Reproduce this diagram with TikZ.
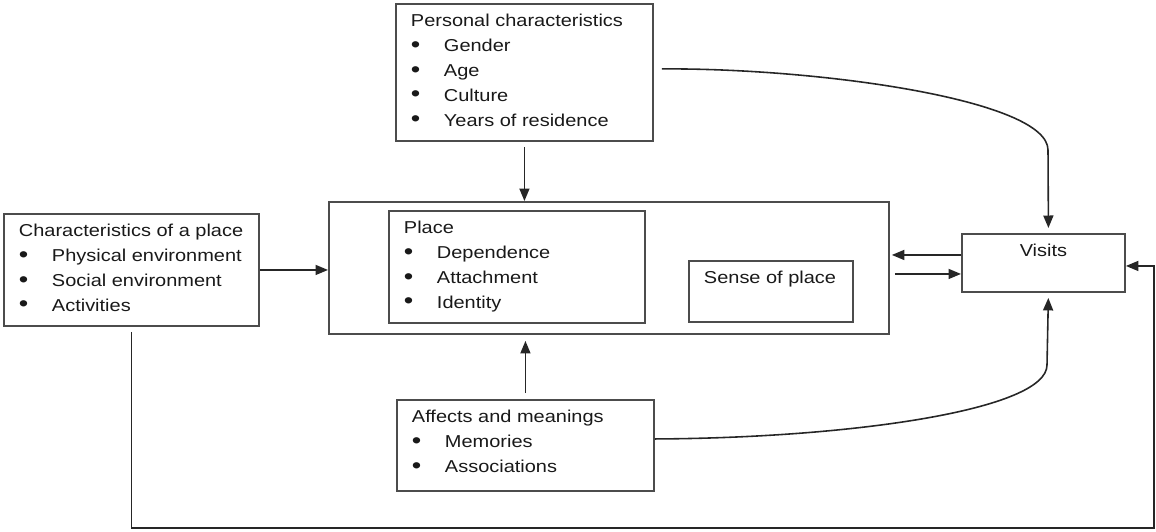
\documentclass[tikz,border=0pt]{standalone}
\usepackage{fontspec}
\usepackage{graphicx}
\setmainfont{Liberation Sans}[FakeStretch=1.16]
\usetikzlibrary{arrows.meta}
\newcommand{\itm}[1]{\\\makebox[0.66cm][l]{\raisebox{-0.4pt}{\scalebox{1.35}{\textbullet}}}#1}
\newcommand{\boxtext}[3]{\parbox[c][#2][t]{#1}{\strut #3}}
\begin{document}
\begin{tikzpicture}[x=0.02cm, y=-0.02cm, font=\fontsize{9.8}{14.2}\selectfont,
    every node/.style={anchor=north west, inner xsep=0.3cm, inner ysep=0.1cm},
    panel/.style={draw=black!70, line width=1.1pt, text=black!90},
    arr/.style={-{Triangle[length=0.25cm,width=0.2cm]}, line width=0.9pt, draw=black!85}]
  \useasboundingbox (0,0) rectangle (1156,531);
  % boxes
  \node [panel,minimum width=11.2cm,minimum height=2.64cm,inner sep=0pt] (central) at (328,201) {};
  \node [panel] (pers) at (395,3) {\boxtext{4.54cm}{2.54cm}{Personal characteristics\itm{Gender}\itm{Age}\itm{Culture}\itm{Years of residence}}};
  \node [panel] (chars) at (3,213) {\boxtext{4.5cm}{2.04cm}{Characteristics of a place\itm{Physical environment}\itm{Social environment}\itm{Activities}}};
  \node [panel] (place) at (388,210) {\boxtext{4.52cm}{2.04cm}{Place\itm{Dependence}\itm{Attachment}\itm{Identity}}};
  \node [panel] (sense) at (688,260) {\boxtext{2.68cm}{1.02cm}{Sense of place}};
  \node [panel] (visits) at (961,233) {\boxtext{2.66cm}{0.96cm}{\centering Visits}};
  \node [panel] (affects) at (396,399) {\boxtext{4.54cm}{1.62cm}{Affects and meanings\itm{Memories}\itm{Associations}}};
  % connectors
  \draw [arr, shorten <=0.1cm] (pers.south) -- (pers.south |- central.north);
  \draw [arr, shorten <=0.12cm, shorten >=0.12cm] (affects.north) -- (affects.north |- central.south);
  \draw [arr] (chars.east) -- (chars.east -| central.west);
  \draw [arr, shorten >=0.04cm] ([yshift=0.16cm]visits.west) -- ([yshift=0.16cm]visits.west -| central.east);
  \draw [arr, shorten <=0.1cm] ([yshift=-0.22cm]visits.west -| central.east) -- ([yshift=-0.22cm]visits.west);
  \draw [arr, shorten <=0.16cm, shorten >=0.1cm] ([yshift=0.07cm]pers.east) .. controls (820,68) and (1048,100) .. (1048,150) -- ([xshift=0.1cm]visits.north);
  \draw [arr, shorten >=0.1cm] ([yshift=0.13cm]affects.east) .. controls (850,438) and (1047,410) .. (1047,365) -- ([xshift=0.1cm]visits.south);
  \coordinate (loopr) at (1154,528);
  \draw [arr, shorten <=0.1cm] (chars.south) -- (chars.south |- loopr) -- (loopr) |- ([yshift=-0.06cm]visits.east);
\end{tikzpicture}
\end{document}
